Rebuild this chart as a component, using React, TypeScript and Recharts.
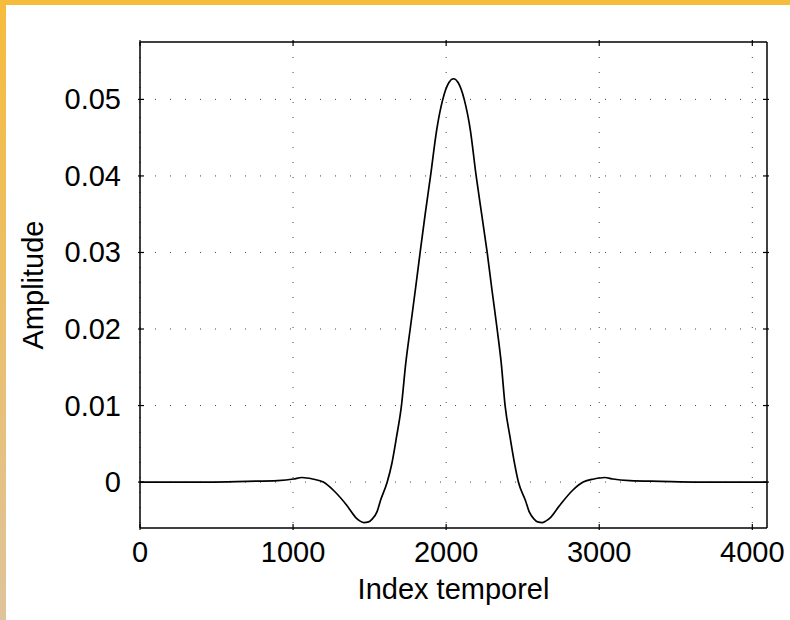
import { LineChart, Line, XAxis, YAxis, CartesianGrid } from 'recharts';

// sample index (Index temporel)
const idx = [
    0, 448, 700, 900, 1003, 1058, 1128, 1198, 1265, 1353, 1408, 1438, 1463, 1493, 1518, 1548, 1571,
    1615, 1645, 1675, 1708, 1736, 1765, 1798, 1830, 1863, 1898, 1938, 1978, 2018, 2048,
    2078, 2118, 2158, 2196, 2232, 2268, 2300, 2333, 2360, 2385, 2418, 2447, 2472,
    2518, 2543, 2573, 2598, 2628, 2650, 2683, 2740, 2825, 2895, 2965, 3035, 3090, 3200, 3400, 3650, 4096
];

// amplitude
const amp = [
    0, 0, 0.0001, 0.0002, 0.0004, 0.0006, 0.0004, 0, -0.0011, -0.0031, -0.0046, -0.0051, -0.0053, -0.0052, -0.0048, -0.0039, -0.0024,
    0, 0.0024, 0.0058, 0.01, 0.0155, 0.02, 0.025, 0.03, 0.035, 0.04, 0.046, 0.05, 0.0522, 0.0527,
    0.0522, 0.05, 0.046, 0.04, 0.035, 0.03, 0.025, 0.02, 0.0155, 0.01, 0.0058, 0.0024, 0,
    -0.0024, -0.0039, -0.0048, -0.0052, -0.0053, -0.0051, -0.0046, -0.0031, -0.0011, 0, 0.0004, 0.0006, 0.0004, 0.0002, 0.0001, 0, 0
];

const xTicks = [0, 1000, 2000, 3000, 4000];
const yTicks = [0, 0.01, 0.02, 0.03, 0.04, 0.05];

const data = idx.map((t, i) => ({ t, a: amp[i] }));

const font = '"Liberation Sans", Arial, sans-serif';
const fs = 29;
const TL = 6;

function BottomTick(props: any) {
    const { x, y, payload } = props;
    return <g>
        <line x1={x} y1={y} x2={x} y2={y - TL} stroke="#000" strokeWidth={1.2}/>
        <text x={x} y={y + 32} textAnchor="middle" fontSize={fs} fontFamily={font} fill="#000">{payload.value}</text>
    </g>
}

function TopTick(props: any) {
    const { x, y } = props;
    return <line x1={x} y1={y} x2={x} y2={y + TL} stroke="#000" strokeWidth={1.2}/>
}

function LeftTick(props: any) {
    const { x, y, payload } = props;
    return <g>
        <line x1={x} y1={y} x2={x + TL} y2={y} stroke="#000" strokeWidth={1.2}/>
        <text x={x - 17} y={y + 10} textAnchor="end" fontSize={fs} fontFamily={font} fill="#000">{payload.value}</text>
    </g>
}

function RightTick(props: any) {
    const { x, y } = props;
    return <line x1={x} y1={y} x2={x - TL} y2={y} stroke="#000" strokeWidth={1.2}/>
}

export default function App() {
    return <div style={{
        position: 'absolute', left: 0, top: 0, width: 790, height: 620,
        background: 'linear-gradient(#f6bc3c, #dfc39b)'
    }}>
        <div style={{ position: 'absolute', left: 6, top: 5, right: 0, bottom: 0, background: '#fff' }}/>
        <div style={{ position: 'absolute', left: 0, top: 0 }}>
            <LineChart width={790} height={620} data={data}
                       margin={{ top: 41, right: 22, left: 0, bottom: 0 }}>
                <CartesianGrid stroke="#444" strokeDasharray="1 14" strokeWidth={1}
                               horizontalValues={yTicks} verticalValues={xTicks}/>
                <XAxis dataKey="t" type="number" domain={[0, 4096]} ticks={xTicks} height={92}
                       tickSize={0} tickLine={false} tick={<BottomTick/>}
                       axisLine={{ stroke: '#000', strokeWidth: 1.5 }}
                       label={{ value: 'Index temporel', position: 'insideBottom', offset: 21, fontSize: fs, fontFamily: font, fill: '#000' }}/>
                <XAxis xAxisId="top" orientation="top" dataKey="t" type="number" domain={[0, 4096]} ticks={xTicks}
                       height={1} tickSize={0} tickLine={false} tick={<TopTick/>}
                       axisLine={{ stroke: '#000', strokeWidth: 1.5 }}/>
                <YAxis type="number" domain={[-0.006, 0.0575]} ticks={yTicks} width={140}
                       tickSize={0} tickLine={false} tick={<LeftTick/>}
                       axisLine={{ stroke: '#000', strokeWidth: 1.5 }}
                       label={{ value: 'Amplitude', angle: -90, position: 'insideLeft', offset: 33, fontSize: fs, fontFamily: font, fill: '#000', style: { textAnchor: 'middle' } }}/>
                <YAxis yAxisId="right" orientation="right" type="number" domain={[-0.006, 0.0575]} ticks={yTicks}
                       width={1} tickSize={0} tickLine={false} tick={<RightTick/>}
                       axisLine={{ stroke: '#000', strokeWidth: 1.5 }}/>
                <Line type="monotone" dataKey="a" stroke="#000" strokeWidth={1.7} dot={false} isAnimationActive={false}/>
                <Line xAxisId="top" yAxisId="right" type="monotone" dataKey="a" stroke="none" dot={false}
                      activeDot={false} isAnimationActive={false}/>
            </LineChart>
        </div>
    </div>
}
